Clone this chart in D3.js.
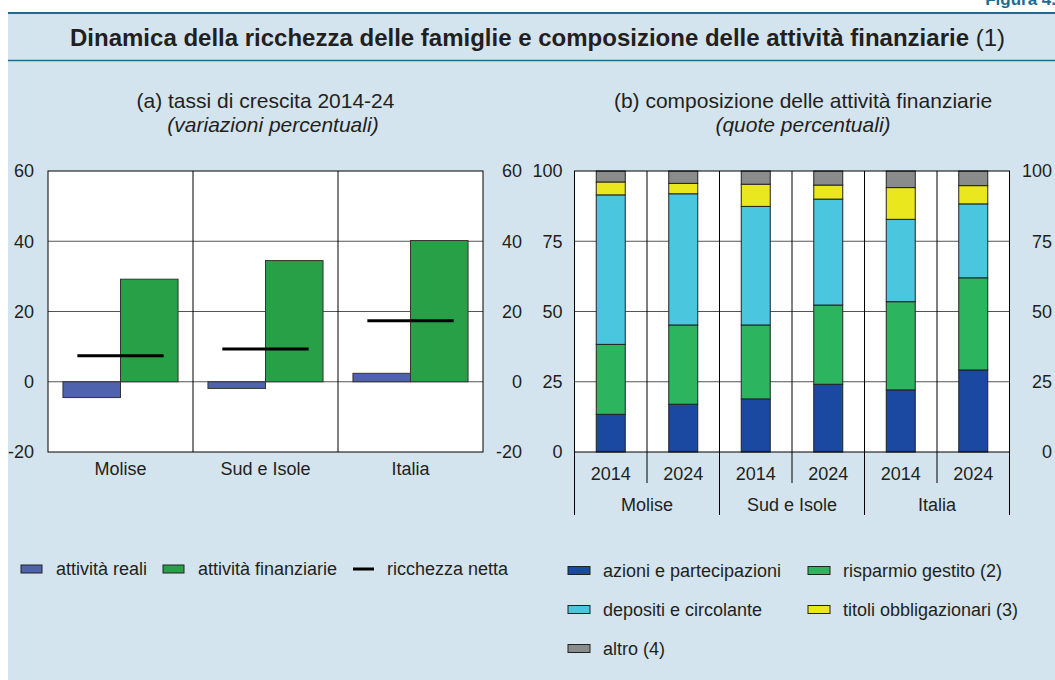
<!DOCTYPE html>
<html>
<head>
<meta charset="utf-8">
<script src="https://cdn.jsdelivr.net/npm/d3@7"></script>
<style>
  body { margin: 0; background: #fff; }
  svg { display: block; font-family: "Liberation Sans", Arial, sans-serif; }
  text { fill: #231f20; }
</style>
</head>
<body>
<div id="chart"></div>
<script>
// data
var categorie = ["Molise", "Sud e Isole", "Italia"];
var attivitaReali = [-4.5, -1.9, 2.4];
var attivitaFinanziarie = [29.2, 34.5, 40.2];
var ricchezzaNetta = [7.4, 9.3, 17.4];
var ticksA = [-20, 0, 20, 40, 60];

var anni = ["2014", "2024"];
var azioni = [13.4, 17.0, 18.9, 24.1, 22.1, 29.2];
var risparmio = [24.9, 28.2, 26.3, 28.2, 31.4, 32.8];
var depositi = [53.2, 46.7, 42.2, 37.7, 29.3, 26.3];
var titoli = [4.6, 3.7, 7.9, 5.0, 11.3, 6.5];
var altro = [3.9, 4.4, 4.7, 5.0, 5.9, 5.2];
var ticksB = [0, 25, 50, 75, 100];

var svgWidth = 1055, svgHeight = 680;
var plotTop = 171, plotBottom = 452;
var fontSize = 18;
var subSize = 21;
var gridColor = "#555";

var svg = d3.select("#chart").append("svg")
  .attr("width", svgWidth)
  .attr("height", svgHeight);

// background and header
svg.append("rect").attr("x", 8).attr("y", 13).attr("width", svgWidth - 8).attr("height", svgHeight - 13)
  .attr("fill", "#d3e4ee");
svg.append("line").attr("x1", 8).attr("x2", svgWidth).attr("y1", 13).attr("y2", 13)
  .attr("stroke", "#1f6b8f").attr("stroke-width", 2);
svg.append("line").attr("x1", 8).attr("x2", svgWidth).attr("y1", 60.5).attr("y2", 60.5)
  .attr("stroke", "#1f6b8f").attr("stroke-width", 1.5);
svg.append("text").attr("x", 1056).attr("y", 5).attr("text-anchor", "end")
  .style("font-size", "17px").style("font-weight", "bold").style("fill", "#1f6b8f")
  .text("Figura 4.");

var title = svg.append("text").attr("x", 537.5).attr("y", 46).attr("text-anchor", "middle")
  .style("font-size", "24px");
title.append("tspan").style("font-weight", "bold")
  .text("Dinamica della ricchezza delle famiglie e composizione delle attività finanziarie");
title.append("tspan").text(" (1)");

// ---------- panel (a) ----------
var aLeft = 48, aRight = 483;

svg.append("text").attr("x", 265.5).attr("y", 108).attr("text-anchor", "middle")
  .style("font-size", subSize + "px").text("(a) tassi di crescita 2014-24");
svg.append("text").attr("x", 273).attr("y", 132).attr("text-anchor", "middle")
  .style("font-size", subSize + "px").style("font-style", "italic").text("(variazioni percentuali)");

var xA = d3.scaleBand().domain(categorie).range([aLeft, aRight]);
var serieA = ["reali", "finanziarie"];
var xA1 = d3.scaleBand().domain(serieA).range([0, xA.bandwidth()]).paddingOuter(0.26);
var yA = d3.scaleLinear().domain([-20, 60]).range([plotBottom, plotTop]);

var gA = svg.append("g");
gA.append("rect").attr("x", aLeft).attr("y", plotTop).attr("width", aRight - aLeft)
  .attr("height", plotBottom - plotTop).attr("fill", "#fff");

gA.selectAll(".grid").data(ticksA.filter(t => t > -20 && t < 60)).enter()
  .append("line")
  .attr("x1", aLeft).attr("x2", aRight)
  .attr("y1", d => yA(d)).attr("y2", d => yA(d))
  .attr("stroke", gridColor).attr("stroke-width", 1);

gA.selectAll(".sep").data(categorie.slice(1)).enter()
  .append("line")
  .attr("x1", d => xA(d)).attr("x2", d => xA(d))
  .attr("y1", plotTop).attr("y2", plotBottom)
  .attr("stroke", "#000").attr("stroke-width", 1);

var datiA = categorie.map((c, i) => ({ cat: c, reali: attivitaReali[i], finanziarie: attivitaFinanziarie[i], netta: ricchezzaNetta[i] }));
var coloriA = { reali: "#4e62ad", finanziarie: "#27a048" };

serieA.forEach(s => {
  gA.selectAll(".bar-" + s).data(datiA).enter()
    .append("rect")
    .attr("x", d => xA(d.cat) + xA1(s))
    .attr("width", xA1.bandwidth())
    .attr("y", d => yA(Math.max(0, d[s])))
    .attr("height", d => Math.abs(yA(d[s]) - yA(0)))
    .attr("fill", coloriA[s])
    .attr("stroke", "#333").attr("stroke-width", 1);
});

gA.selectAll(".netta").data(datiA).enter()
  .append("line")
  .attr("x1", d => xA(d.cat) + xA.bandwidth() / 2 - xA1.bandwidth() * 0.75)
  .attr("x2", d => xA(d.cat) + xA.bandwidth() / 2 + xA1.bandwidth() * 0.75)
  .attr("y1", d => yA(d.netta)).attr("y2", d => yA(d.netta))
  .attr("stroke", "#000").attr("stroke-width", 3);

gA.append("rect").attr("x", aLeft).attr("y", plotTop).attr("width", aRight - aLeft)
  .attr("height", plotBottom - plotTop).attr("fill", "none").attr("stroke", "#000").attr("stroke-width", 1);

// axes (a)
var fmt = d => String(d);
var axisALeft = d3.axisLeft(yA).tickValues(ticksA).tickFormat(fmt).tickSize(0).tickPadding(14);
var axisARight = d3.axisRight(yA).tickValues(ticksA).tickFormat(fmt).tickSize(0).tickPadding(0);
var gAL = svg.append("g").attr("transform", `translate(${aLeft},0)`).call(axisALeft);
var gAR = svg.append("g").attr("transform", `translate(522,0)`).call(axisARight);
gAR.selectAll("text").attr("text-anchor", "end");
var gAB = svg.append("g").attr("transform", `translate(0,${plotBottom})`)
  .call(d3.axisBottom(xA).tickSize(0).tickPadding(10));
[gAL, gAR, gAB].forEach(g => {
  g.select(".domain").remove();
  g.selectAll("text").style("font-size", fontSize + "px").style("font-family", "Liberation Sans, Arial, sans-serif").attr("fill", "#231f20");
});

// ---------- panel (b) ----------
var bLeft = 574.5, bRight = 1009.5;

svg.append("text").attr("x", 803).attr("y", 108).attr("text-anchor", "middle")
  .style("font-size", subSize + "px").text("(b) composizione delle attività finanziarie");
svg.append("text").attr("x", 803).attr("y", 132).attr("text-anchor", "middle")
  .style("font-size", subSize + "px").style("font-style", "italic").text("(quote percentuali)");

var barreB = [];
categorie.forEach(c => anni.forEach(a => barreB.push(c + "|" + a)));
var componenti = ["azioni e partecipazioni", "risparmio gestito (2)", "depositi e circolante", "titoli obbligazionari (3)", "altro (4)"];
var chiavi = ["azioni", "risparmio", "depositi", "titoli", "altro"];
var coloriB = ["#1b48a0", "#2cb45f", "#4bc6df", "#ebe71f", "#8a8c8c"];
var datiB = barreB.map((b, i) => ({
  id: b, azioni: azioni[i], risparmio: risparmio[i], depositi: depositi[i], titoli: titoli[i], altro: altro[i]
}));

var xB = d3.scaleBand().domain(barreB).range([bLeft, bRight]).paddingInner(0).paddingOuter(0);
var xG = d3.scaleBand().domain(categorie).range([bLeft, bRight]);
var yB = d3.scaleLinear().domain([0, 100]).range([plotBottom, plotTop]);
var barW = xB.bandwidth() * 0.4;

var gB = svg.append("g");
gB.append("rect").attr("x", bLeft).attr("y", plotTop).attr("width", bRight - bLeft)
  .attr("height", plotBottom - plotTop).attr("fill", "#fff");

gB.selectAll(".grid").data(ticksB.filter(t => t > 0 && t < 100)).enter()
  .append("line")
  .attr("x1", bLeft).attr("x2", bRight)
  .attr("y1", d => yB(d)).attr("y2", d => yB(d))
  .attr("stroke", gridColor).attr("stroke-width", 1);

gB.selectAll(".sep").data(barreB.slice(1)).enter()
  .append("line")
  .attr("x1", d => xB(d)).attr("x2", d => xB(d))
  .attr("y1", plotTop).attr("y2", plotBottom)
  .attr("stroke", "#000").attr("stroke-width", 1);

var stack = d3.stack().keys(chiavi)(datiB);
gB.selectAll(".layer").data(stack).enter()
  .append("g")
  .attr("fill", (d, i) => coloriB[i])
  .selectAll("rect").data(d => d).enter()
  .append("rect")
  .attr("x", d => xB(d.data.id) + (xB.bandwidth() - barW) / 2)
  .attr("width", barW)
  .attr("y", d => yB(d[1]))
  .attr("height", d => yB(d[0]) - yB(d[1]))
  .attr("stroke", "#222").attr("stroke-width", 1);

gB.append("rect").attr("x", bLeft).attr("y", plotTop).attr("width", bRight - bLeft)
  .attr("height", plotBottom - plotTop).attr("fill", "none").attr("stroke", "#000").attr("stroke-width", 1);

// axes (b)
var gBL = svg.append("g").attr("transform", `translate(${bLeft},0)`)
  .call(d3.axisLeft(yB).tickValues(ticksB).tickSize(0).tickPadding(12));
var gBR = svg.append("g").attr("transform", `translate(1052,0)`)
  .call(d3.axisRight(yB).tickValues(ticksB).tickSize(0).tickPadding(0));
gBR.selectAll("text").attr("text-anchor", "end");

// year labels and separators under the plot
var gBB = svg.append("g").attr("transform", `translate(0,${plotBottom})`)
  .call(d3.axisBottom(xB).tickSize(0).tickPadding(15).tickFormat(d => d.split("|")[1]));
gBB.selectAll(".yearSep").data(barreB).enter()
  .append("line")
  .attr("x1", d => xB(d) + xB.bandwidth()).attr("x2", d => xB(d) + xB.bandwidth())
  .attr("y1", 0).attr("y2", 31)
  .attr("stroke", "#000").attr("stroke-width", 1);
var gBG = svg.append("g").attr("transform", `translate(0,${plotBottom + 31})`)
  .call(d3.axisBottom(xG).tickSize(0).tickPadding(15));
var groupEdges = [bLeft].concat(categorie.map(c => xG(c) + xG.bandwidth()));
svg.selectAll(".groupSep").data(groupEdges).enter()
  .append("line")
  .attr("x1", d => d).attr("x2", d => d)
  .attr("y1", plotBottom).attr("y2", 515)
  .attr("stroke", "#000").attr("stroke-width", 1);

[gBL, gBR, gBB, gBG].forEach(g => {
  g.select(".domain").remove();
  g.selectAll("text").style("font-size", fontSize + "px").style("font-family", "Liberation Sans, Arial, sans-serif").attr("fill", "#231f20");
});

// ---------- legends ----------
var legA = [
  { label: "attività reali", color: coloriA.reali, x: 21, type: "rect" },
  { label: "attività finanziarie", color: coloriA.finanziarie, x: 163, type: "rect" },
  { label: "ricchezza netta", color: "#000", x: 353, type: "line" }
];
var legAg = svg.selectAll(".legA").data(legA).enter().append("g")
  .attr("transform", d => `translate(${d.x},569)`);
legAg.filter(d => d.type === "rect").append("rect")
  .attr("x", 0).attr("y", -4).attr("width", 21).attr("height", 8)
  .attr("fill", d => d.color).attr("stroke", "#222").attr("stroke-width", 1);
legAg.filter(d => d.type === "line").append("line")
  .attr("x1", 0).attr("x2", 21).attr("y1", 0).attr("y2", 0)
  .attr("stroke", "#000").attr("stroke-width", 3);
legAg.append("text").attr("x", d => d.type === "line" ? 34 : 35).attr("y", 0).attr("dy", "0.35em")
  .style("font-size", fontSize + "px").text(d => d.label);

var legBpos = [[568, 570.5], [808, 570.5], [568, 609.5], [808, 609.5], [568, 648.5]];
var legOrdine = [0, 1, 2, 3, 4];
var legBg = svg.selectAll(".legB").data(legOrdine).enter().append("g")
  .attr("transform", (d, i) => `translate(${legBpos[i][0]},${legBpos[i][1]})`);
legBg.append("rect").attr("x", 0).attr("y", -4).attr("width", 22).attr("height", 8)
  .attr("fill", d => coloriB[d]).attr("stroke", "#222").attr("stroke-width", 1);
legBg.append("text").attr("x", 35).attr("y", 0).attr("dy", "0.35em")
  .style("font-size", fontSize + "px").text(d => componenti[d]);
</script>
</body>
</html>
